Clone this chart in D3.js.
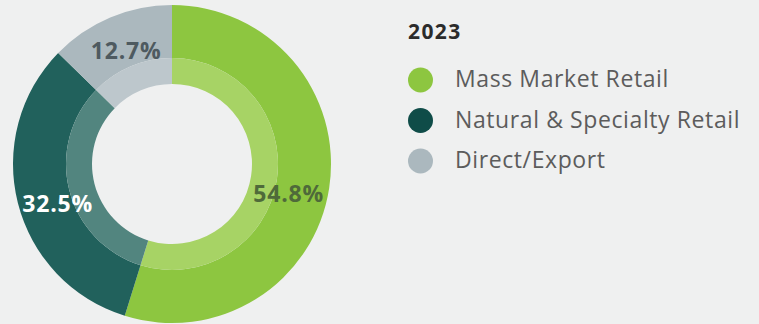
<!DOCTYPE html>
<html>
<head>
<meta charset="utf-8">
<script src="https://cdn.jsdelivr.net/npm/d3@7"></script>
<style>
  html, body { margin: 0; padding: 0; background: #eff0f0; }
  svg { display: block; }
</style>
</head>
<body>
<svg id="chart" width="759" height="324"></svg>
<script>
// Sales channel mix, 2023
const title = "2023";
const channels = ["Mass Market Retail", "Natural & Specialty Retail", "Direct/Export"];
const shares = [54.8, 32.5, 12.7];
const labels = ["54.8%", "32.5%", "12.7%"];

const outerColors = ["#8dc640", "#21615c", "#abb8be"];
const innerColors = ["#a7d365", "#52857f", "#bdc7cc"];
const legendColors = ["#8dc640", "#0f4c48", "#abb8be"];
const labelColors = ["#4f6a3a", "#ffffff", "#4e5a60"];

const svg = d3.select("#chart");
const font = "'Open Sans', Lato, sans-serif";

const cx = 172, cy = 164;
const rOuter = 159, rBand = 106, rHole = 80;

const pie = d3.pie().sort(null).value(d => d.value);
const arcs = pie(shares.map((v, i) => ({ value: v, i })));

const outerArc = d3.arc().innerRadius(rBand).outerRadius(rOuter);
const bandArc = d3.arc().innerRadius(rHole).outerRadius(rBand);
const labelArc = d3.arc().innerRadius(118).outerRadius(118);

const g = svg.append("g").attr("transform", `translate(${cx},${cy})`);

g.selectAll("path.outer").data(arcs).join("path")
  .attr("class", "outer")
  .attr("d", outerArc)
  .attr("fill", d => outerColors[d.data.i]);

g.selectAll("path.band").data(arcs).join("path")
  .attr("class", "band")
  .attr("d", bandArc)
  .attr("fill", d => innerColors[d.data.i]);

g.selectAll("text.val").data(arcs).join("text")
  .attr("class", "val")
  .attr("transform", d => {
    const [x, y] = labelArc.centroid(d);
    // side labels sit a little lower than the top one
    const s = Math.sin((d.startAngle + d.endAngle) / 2);
    return `translate(${x},${y + 20 * s * s - 8})`;
  })
  .attr("text-anchor", "middle")
  .attr("dy", "0.36em")
  .attr("font-family", font)
  .attr("font-weight", 700)
  .attr("font-size", 23)
  .attr("letter-spacing", 0.8)
  .attr("fill", d => labelColors[d.data.i])
  .text(d => labels[d.data.i]);

// Legend
const legend = svg.append("g").attr("transform", "translate(408,0)");
legend.append("text")
  .attr("x", 0).attr("y", 39)
  .attr("font-family", font)
  .attr("font-weight", 700)
  .attr("font-size", 21)
  .attr("letter-spacing", 1.4)
  .attr("fill", "#2b2b2b")
  .text(title);

const rowY = d3.scalePoint().domain(channels).range([80, 161]);
const rows = legend.selectAll("g.row").data(channels).join("g")
  .attr("class", "row")
  .attr("transform", d => `translate(0,${rowY(d)})`);
rows.append("circle")
  .attr("cx", 12.5).attr("cy", 0).attr("r", 12.5)
  .attr("fill", (d, i) => legendColors[i]);
rows.append("text")
  .attr("x", 47).attr("y", 7)
  .attr("font-family", font)
  .attr("font-size", 23)
  .attr("letter-spacing", 0.6)
  .attr("fill", "#5c5c5c")
  .text(d => d);
</script>
</body>
</html>
